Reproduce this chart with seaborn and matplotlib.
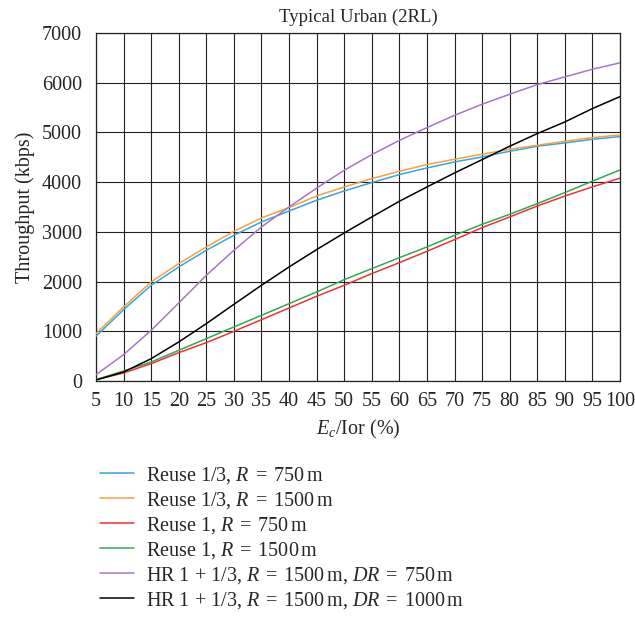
import numpy as np
import pandas as pd
import matplotlib
matplotlib.use("Agg")
import matplotlib.pyplot as plt
import seaborn as sns
from matplotlib.lines import Line2D

x_vals = [5, 10, 15, 20, 25, 30, 35, 40, 45, 50, 55, 60, 65, 70, 75, 80, 85, 90, 95, 100]

reuse13_750 = [900, 1435, 1925, 2294, 2629, 2931, 3199, 3420, 3635, 3823,
               3991, 4152, 4286, 4406, 4507, 4621, 4722, 4789, 4862, 4916]
reuse13_1500 = [952, 1489, 1992, 2361, 2696, 3011, 3280, 3488, 3722, 3903,
                4071, 4219, 4353, 4460, 4561, 4661, 4742, 4822, 4896, 4950]
reuse1_750 = [27, 161, 349, 570, 771, 999, 1234, 1469, 1704, 1925,
              2160, 2381, 2609, 2844, 3085, 3300, 3520, 3720, 3905, 4080]
reuse1_1500 = [27, 201, 382, 617, 852, 1087, 1321, 1556, 1791, 2039,
               2260, 2481, 2696, 2931, 3152, 3353, 3568, 3790, 4020, 4245]
hr_dr750 = [127, 530, 1019, 1569, 2126, 2629, 3099, 3501, 3880, 4239,
            4554, 4840, 5097, 5345, 5567, 5768, 5962, 6117, 6271, 6400]
hr_dr1000 = [20, 181, 449, 785, 1154, 1543, 1925, 2294, 2643, 2978,
             3300, 3615, 3903, 4185, 4453, 4722, 4977, 5211, 5480, 5720]

labels = [
    r"Reuse 1/3, $R\;=\;$750$\,$m",
    r"Reuse 1/3, $R\;=\;$1500$\,$m",
    r"Reuse 1, $R\;=\;$750$\,$m",
    r"Reuse 1, $R\;=\;$1500$\,$m",
    r"HR 1 + 1/3, $R\;=\;$1500$\,$m, $DR\;=\;$750$\,$m",
    r"HR 1 + 1/3, $R\;=\;$1500$\,$m, $DR\;=\;$1000$\,$m",
]
colors = ["#35a7df", "#f7a040", "#ee3237", "#33a852", "#a876c2", "#000000"]
series = [reuse13_750, reuse13_1500, reuse1_750, reuse1_1500, hr_dr750, hr_dr1000]

x_ticks = list(range(5, 101, 5))
y_ticks = list(range(0, 7001, 1000))

rows = []
for lab, vals in zip(labels, series):
    for xv, yv in zip(x_vals, vals):
        rows.append({"x": xv, "y": yv, "series": lab})
df = pd.DataFrame(rows)

sns.set_style("white")
plt.rcParams["font.family"] = ["Liberation Serif", "DejaVu Serif"]
plt.rcParams["mathtext.fontset"] = "custom"
plt.rcParams["mathtext.rm"] = "Liberation Serif"
plt.rcParams["mathtext.it"] = "Liberation Serif:italic"

FS = 14.5

fig = plt.figure(figsize=(6.35, 6.23), dpi=100)
ax = fig.add_axes([96 / 635, 1 - 381 / 623, 524 / 635, 348 / 623])

sns.lineplot(data=df, x="x", y="y", hue="series", palette=dict(zip(labels, colors)),
             hue_order=labels, ax=ax, linewidth=1.1, legend=False, zorder=3)

ax.set_xlim(5, 100)
ax.set_ylim(0, 7000)
ax.set_xticks(x_ticks)
ax.set_yticks(y_ticks)
ax.set_xticklabels([str(t) for t in x_ticks])
ax.grid(True, color="#222222", linewidth=0.8)
ax.set_axisbelow(True)
for s in ax.spines.values():
    s.set_color("#222222")
    s.set_linewidth(0.9)
ax.tick_params(axis="both", direction="out", length=5, width=0.8, color="#222222",
               labelsize=FS)
ax.tick_params(axis="x", pad=3)
ax.tick_params(axis="y", pad=5)
ax.set_xlabel(r"$E_c$/Ior (%)", fontsize=FS, labelpad=5)
ax.set_ylabel("Throughput (kbps)", fontsize=FS, labelpad=5)
ax.set_title("Typical Urban (2RL)", fontsize=13.5, pad=8)

handles = [Line2D([0], [0], color=c, lw=1.1) for c in colors]
fig.legend(handles, labels, loc="upper left", bbox_to_anchor=(100 / 635, 1 - 465 / 623),
           frameon=False, fontsize=FS, handlelength=1.7, handletextpad=0.6,
           labelspacing=0.2, borderaxespad=0, borderpad=0)

fig.savefig("out.png", dpi=100)
